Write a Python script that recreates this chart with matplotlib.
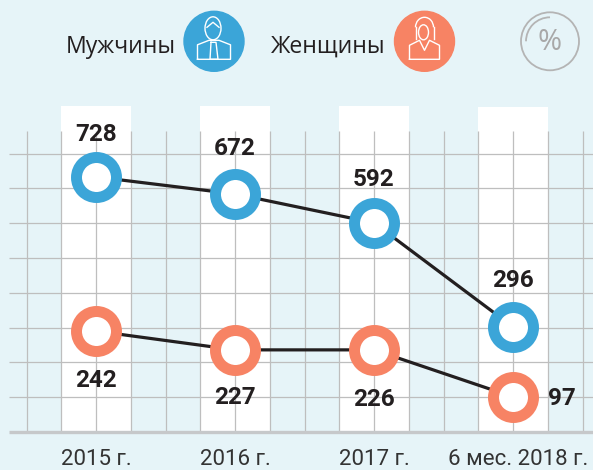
import matplotlib
matplotlib.use('Agg')
import matplotlib.pyplot as plt
from matplotlib.patches import Circle, Arc, Ellipse

periods = ['2015 г.', '2016 г.', '2017 г.', '6 мес. 2018 г.']
# printed numbers
men_labels = [728, 672, 592, 296]
women_labels = [242, 227, 226, 97]
# heights of the points (the picture is not to scale)
men_heights = [733, 684, 601, 302]
women_heights = [290, 236, 236, 101]
grid_y = [100, 200, 300, 400, 500, 600, 700, 800]

BG = '#E6F4F8'
BLUE = '#3BA5D8'
ORANGE = '#F78364'
DARK = '#231F20'
GRID = '#BEBEBE'

plt.rcParams['font.family'] = ['Roboto', 'DejaVu Sans']

W, H = 593, 470
fig = plt.figure(figsize=(W / 100, H / 100), dpi=100, facecolor=BG)
ax = fig.add_axes([0, 0, 1, 1])
ax.set_facecolor(BG)
step = 139.0
ax.set_xlim(-96.0 / step, (W - 96.0) / step)
ax.set_ylim(-(H - 432) / 0.348, 432 / 0.348)
ax.axis('off')

xs = list(range(len(periods)))

# white columns
ax.bar(xs, [937, 937, 937, 934], width=0.5, color='white', zorder=1)

# grid
grid_x = [(26.5 + 34.75 * i - 96.0) / step for i in range(17)]
ax.vlines(grid_x, 0, 865, color=GRID, lw=0.9, zorder=2)
ax.hlines(grid_y, (9 - 96.0) / step, (W - 96.0) / step, color=GRID, lw=0.9, zorder=2)
ax.hlines(0, (9 - 96.0) / step, (W - 96.0) / step, color='#C6C8CA', lw=2.4, zorder=2)

# series
for heights, col in [(men_heights, BLUE), (women_heights, ORANGE)]:
    ax.plot(xs, heights, color=DARK, lw=2.3, zorder=3)
    ax.plot(xs, heights, ls='none', marker='o', ms=28.8, mew=7.9, mec=col, mfc='white', zorder=4)

label_kw = dict(ha='center', va='center', fontsize=17.5, fontweight='bold', color=DARK, zorder=5)
men_off = [42, 45, 43, 46]
women_off = [-49, -48, -50]
for x, h, lab, o in zip(xs, men_heights, men_labels, men_off):
    ax.annotate(str(lab), (x, h), xytext=(0, o * 0.72), textcoords='offset points', **label_kw)
for x, h, lab, o in zip(xs, women_heights, women_labels, women_off):
    ax.annotate(str(lab), (x, h), xytext=(0, o * 0.72), textcoords='offset points', **label_kw)
ax.annotate(str(women_labels[3]), (xs[3], women_heights[3]), xytext=(35, -1.5), textcoords='offset points', **label_kw)

for x, p in zip(xs, periods):
    ax.text(x + (0.04 if x == 3 else 0), -80, p, ha='center', va='center', fontsize=16, color='#333333')

# legend on a pixel overlay
ov = fig.add_axes([0, 0, 1, 1])
ov.set_xlim(0, W)
ov.set_ylim(H, 0)
ov.axis('off')
ov.patch.set_alpha(0)
ov.text(66, 47, 'Мужчины', family='Open Sans', fontsize=16.6, color=DARK, va='center', ha='left')
ov.text(271, 47, 'Женщины', family='Open Sans', fontsize=16.6, color=DARK, va='center', ha='left')


def man(cx, cy):
    kw = dict(color='white', lw=1.0, zorder=6)
    ov.add_patch(Ellipse((cx - 1, cy - 13), 16, 23, fill=False, ec='white', lw=1.0, zorder=6))
    ov.plot([cx - 7, cx - 1, cx + 5], [cy - 14, cy - 19, cy - 14], **kw)
    ov.plot([cx - 16.5, cx - 16.5, cx - 5, cx + 5, cx + 16.5, cx + 16.5, cx - 16.5],
            [cy + 18, cy + 3.5, cy - 1, cy - 1, cy + 3.5, cy + 18, cy + 18], **kw)
    ov.plot([cx - 3, cx + 2, cx + 4, cx - 4, cx - 3], [cy + 1, cy + 1, cy + 18, cy + 18, cy + 1], **kw)


def woman(cx, cy):
    kw = dict(color='white', lw=1.0, zorder=6)
    ov.add_patch(Ellipse((cx - 1, cy - 9), 10, 15, fill=False, ec='white', lw=1.0, zorder=6))
    ov.add_patch(Arc((cx, cy - 14), 18, 20, theta1=180, theta2=360, color='white', lw=1.0, zorder=6))
    ov.plot([cx - 9, cx - 9], [cy - 14, cy - 2], **kw)
    ov.plot([cx + 9, cx + 9], [cy - 14, cy - 2], **kw)
    ov.plot([cx - 15, cx - 15, cx - 5, cx, cx + 5, cx + 15, cx + 15, cx - 15],
            [cy + 18, cy + 4, cy - 1, cy + 9, cy - 1, cy + 4, cy + 18, cy + 18], **kw)


ov.add_patch(Circle((214, 41.3), 30, color=BLUE, zorder=5))
man(214, 41.3)
ov.add_patch(Circle((424.5, 41.3), 30, color=ORANGE, zorder=5))
woman(424.5, 41.3)

ov.add_patch(Circle((550, 41.3), 29, fill=False, ec='#B4B4B4', lw=1.3))
ov.add_patch(Arc((550, 41.3), 48, 48, theta1=180, theta2=270, color='#B4B4B4', lw=1.3))
ov.text(550, 42, '%', family='Open Sans', fontsize=21, color='#A8A8A8', ha='center', va='center')

fig.savefig('out.png', dpi=100, facecolor=BG)
